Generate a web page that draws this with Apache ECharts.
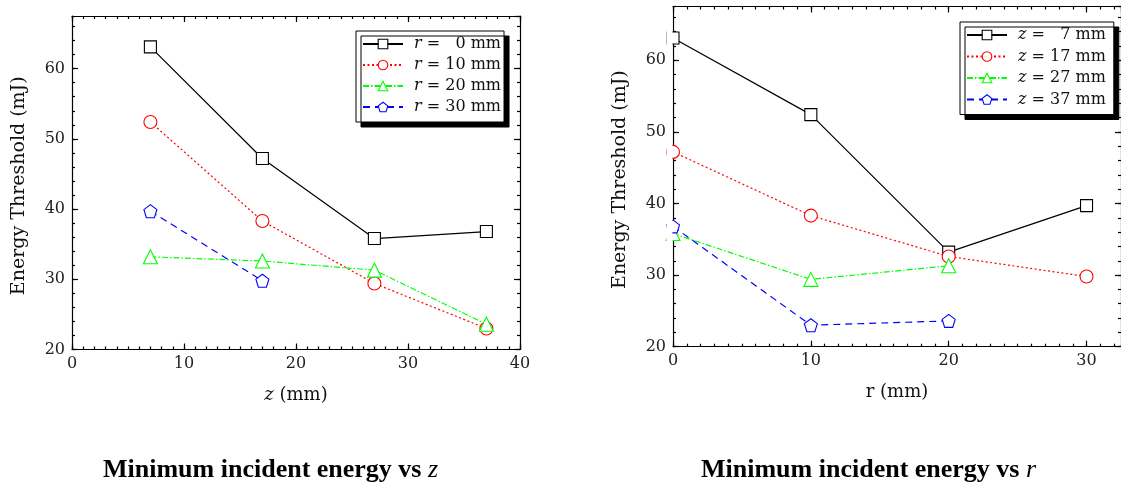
<!DOCTYPE html>
<html><head><meta charset="utf-8">
<script src="https://cdn.jsdelivr.net/npm/echarts@6/dist/echarts.min.js"></script>
<style>html,body{margin:0;padding:0;background:#fff}#c{width:1121px;height:484px}</style>
</head><body><div id="c"></div>
<script>
// ---- data ----
const zPositions = [7, 17, 27, 37];      // mm (left chart x)
const rPositions = [0, 10, 20, 30];      // mm (right chart x)
// Energy threshold (mJ) for each r, along z
const thrR0  = [63.1, 47.2, 35.8, 36.8];
const thrR10 = [52.4, 38.3, 29.4, 23.0];
const thrR20 = [33.2, 32.6, 31.3, 23.6];
const thrR30 = [39.7, 29.8];
// Energy threshold (mJ) for each z, along r
const thrZ7  = [63.1, 52.4, 33.2, 39.7];
const thrZ17 = [47.2, 38.3, 32.6, 29.8];
const thrZ27 = [35.8, 29.4, 31.3];
const thrZ37 = [36.8, 23.0, 23.6];
const leftNames  = ['r = \u20070 mm', 'r = 10 mm', 'r = 20 mm', 'r = 30 mm'];
const rightNames = ['z = \u20077 mm', 'z = 17 mm', 'z = 27 mm', 'z = 37 mm'];
const captionLeft  = ['Minimum incident energy vs ', 'z'];
const captionRight = ['Minimum incident energy vs ', 'r'];
const yName = 'Energy Threshold (mJ)';

// ---- styles ----
const FONT = 'DejaVu Serif';
const colors = ['#000000', '#ff0000', '#00ff00', '#0000ff'];
const dashes = ['solid', [2, 2.5], [6, 2, 1.5, 2], [7, 5]];
const pentagon = 'path://M0,-10 L9.51,-3.09 L5.88,8.09 L-5.88,8.09 L-9.51,-3.09 Z';
const symbols = ['rect', 'circle', 'triangle', pentagon];
const symSizes = [12, 13, 14, 13];
const axisLineStyle = { color: '#000', width: 1.2 };

function xAxesFor(grid, max, name, nameGap, rich, showMax) {
  const base = { type: 'value', gridIndex: grid, min: 0, max: max, splitLine: { show: false } };
  return [
    Object.assign({}, base, {
      position: 'bottom', interval: 10,
      axisLine: { show: true, onZero: false, lineStyle: axisLineStyle },
      axisTick: { show: true, inside: true, length: 6, lineStyle: axisLineStyle },
      axisLabel: { show: true, margin: 6, fontFamily: FONT, fontSize: 16, color: '#222', showMaxLabel: showMax },
      name: name, nameLocation: 'middle', nameGap: nameGap,
      nameTextStyle: { fontFamily: FONT, fontSize: 18, color: '#111', rich: rich }
    }),
    Object.assign({}, base, {
      position: 'bottom', interval: 1,
      axisLine: { show: false, onZero: false },
      axisTick: { show: true, inside: true, length: 3, lineStyle: axisLineStyle },
      axisLabel: { show: false }
    }),
    Object.assign({}, base, {
      position: 'top', interval: 10,
      axisLine: { show: true, onZero: false, lineStyle: axisLineStyle },
      axisTick: { show: true, inside: true, length: 6, lineStyle: axisLineStyle },
      axisLabel: { show: false }
    }),
    Object.assign({}, base, {
      position: 'top', interval: 1,
      axisLine: { show: false, onZero: false },
      axisTick: { show: true, inside: true, length: 3, lineStyle: axisLineStyle },
      axisLabel: { show: false }
    })
  ];
}
function yAxesFor(grid) {
  const base = { type: 'value', gridIndex: grid, min: 20, max: 67.5, splitLine: { show: false } };
  return [
    Object.assign({}, base, {
      position: 'left', interval: 10,
      axisLine: { show: true, onZero: false, lineStyle: axisLineStyle },
      axisTick: { show: true, inside: true, length: 6, lineStyle: axisLineStyle },
      axisLabel: { show: true, margin: 7, fontFamily: FONT, fontSize: 16, color: '#222', showMaxLabel: false },
      name: yName, nameLocation: 'middle', nameGap: 43,
      nameTextStyle: { fontFamily: FONT, fontSize: 19, color: '#111', padding: [0, 6, 0, 0] }
    }),
    Object.assign({}, base, {
      position: 'left', interval: 2,
      axisLine: { show: false, onZero: false },
      axisTick: { show: true, inside: true, length: 3, lineStyle: axisLineStyle },
      axisLabel: { show: false }
    }),
    Object.assign({}, base, {
      position: 'right', interval: 10,
      axisLine: { show: true, onZero: false, lineStyle: axisLineStyle },
      axisTick: { show: true, inside: true, length: 6, lineStyle: axisLineStyle },
      axisLabel: { show: false }
    }),
    Object.assign({}, base, {
      position: 'right', interval: 2,
      axisLine: { show: false, onZero: false },
      axisTick: { show: true, inside: true, length: 3, lineStyle: axisLineStyle },
      axisLabel: { show: false }
    })
  ];
}
function makeSeries(names, xs, ysList, axisIdx) {
  return ysList.map((ys, i) => ({
    name: names[i], type: 'line', xAxisIndex: axisIdx, yAxisIndex: axisIdx,
    data: ys.map((v, k) => [xs[k], v]),
    symbol: symbols[i], symbolSize: symSizes[i], showSymbol: true,
    lineStyle: { color: colors[i], width: 1.2, type: dashes[i] },
    itemStyle: { color: '#fff', borderColor: colors[i], borderWidth: 1.1 },
    emphasis: { disabled: true }, z: 2 + i, clip: false
  }));
}
function legendFor(names, left, top, gap, padRight) {
  return {
    data: names, left: left, top: top, orient: 'vertical', selectedMode: false,
    backgroundColor: '#fff', borderColor: '#000', borderWidth: 1,
    shadowColor: '#000', shadowOffsetX: 5, shadowOffsetY: 5, shadowBlur: 0,
    padding: [5, padRight, 7, 6], itemGap: gap, itemWidth: 40, itemHeight: 12,
    itemStyle: { borderWidth: 1.1 },
    formatter: function (n) { const p = n.split(' = '); return '{v|' + p[0] + '}{t| = ' + p[1] + '}'; },
    textStyle: {
      fontFamily: FONT, fontSize: 16, color: '#111',
      rich: {
        v: { fontFamily: FONT, fontStyle: 'italic', fontSize: 16, color: '#111', padding: [0, 0, 0, 6] },
        t: { fontFamily: FONT, fontSize: 16, color: '#111' }
      }
    }
  };
}
function captionTitle(parts, left) {
  return {
    text: '{b|' + parts[0] + '}{i|' + parts[1] + '}', left: left, top: 455, padding: 0,
    textStyle: { fontWeight: 'normal', rich: {
      b: { fontFamily: 'Liberation Serif', fontWeight: 'bold', fontSize: 26, color: '#000', lineHeight: 30 },
      i: { fontFamily: 'Liberation Serif', fontStyle: 'italic', fontWeight: 'normal', fontSize: 26, color: '#000', lineHeight: 30 }
    } }
  };
}

const chart = echarts.init(document.getElementById('c'), null, { renderer: 'canvas' });
chart.setOption({
  animation: false,
  backgroundColor: '#fff',
  title: [captionTitle(captionLeft, 103), captionTitle(captionRight, 701)],
  grid: [
    { left: 72, top: 16, width: 448, height: 333.5 },
    { left: 673, top: 6.5, width: 457, height: 340.2 }
  ],
  xAxis: xAxesFor(0, 40, '{i|z} (mm)', 37, { i: { fontFamily: FONT, fontStyle: 'italic', fontSize: 18, color: '#111' } }, true)
    .concat(xAxesFor(1, 32.5, 'r (mm)', 37, {}, false)),
  yAxis: yAxesFor(0).concat(yAxesFor(1)),
  legend: [legendFor(leftNames, 356, 31, 5, 3), legendFor(rightNames, 960, 22, 5.5, 8)],
  graphic: [
    { type: 'rect', shape: { x: 666.5, y: 7, width: 5.9, height: 339 }, style: { fill: '#fff' }, z: 100, silent: true }
  ],
  series: makeSeries(leftNames, zPositions, [thrR0, thrR10, thrR20, thrR30], 0)
    .concat(makeSeries(rightNames, rPositions, [thrZ7, thrZ17, thrZ27, thrZ37], 4))
});
</script></body></html>
